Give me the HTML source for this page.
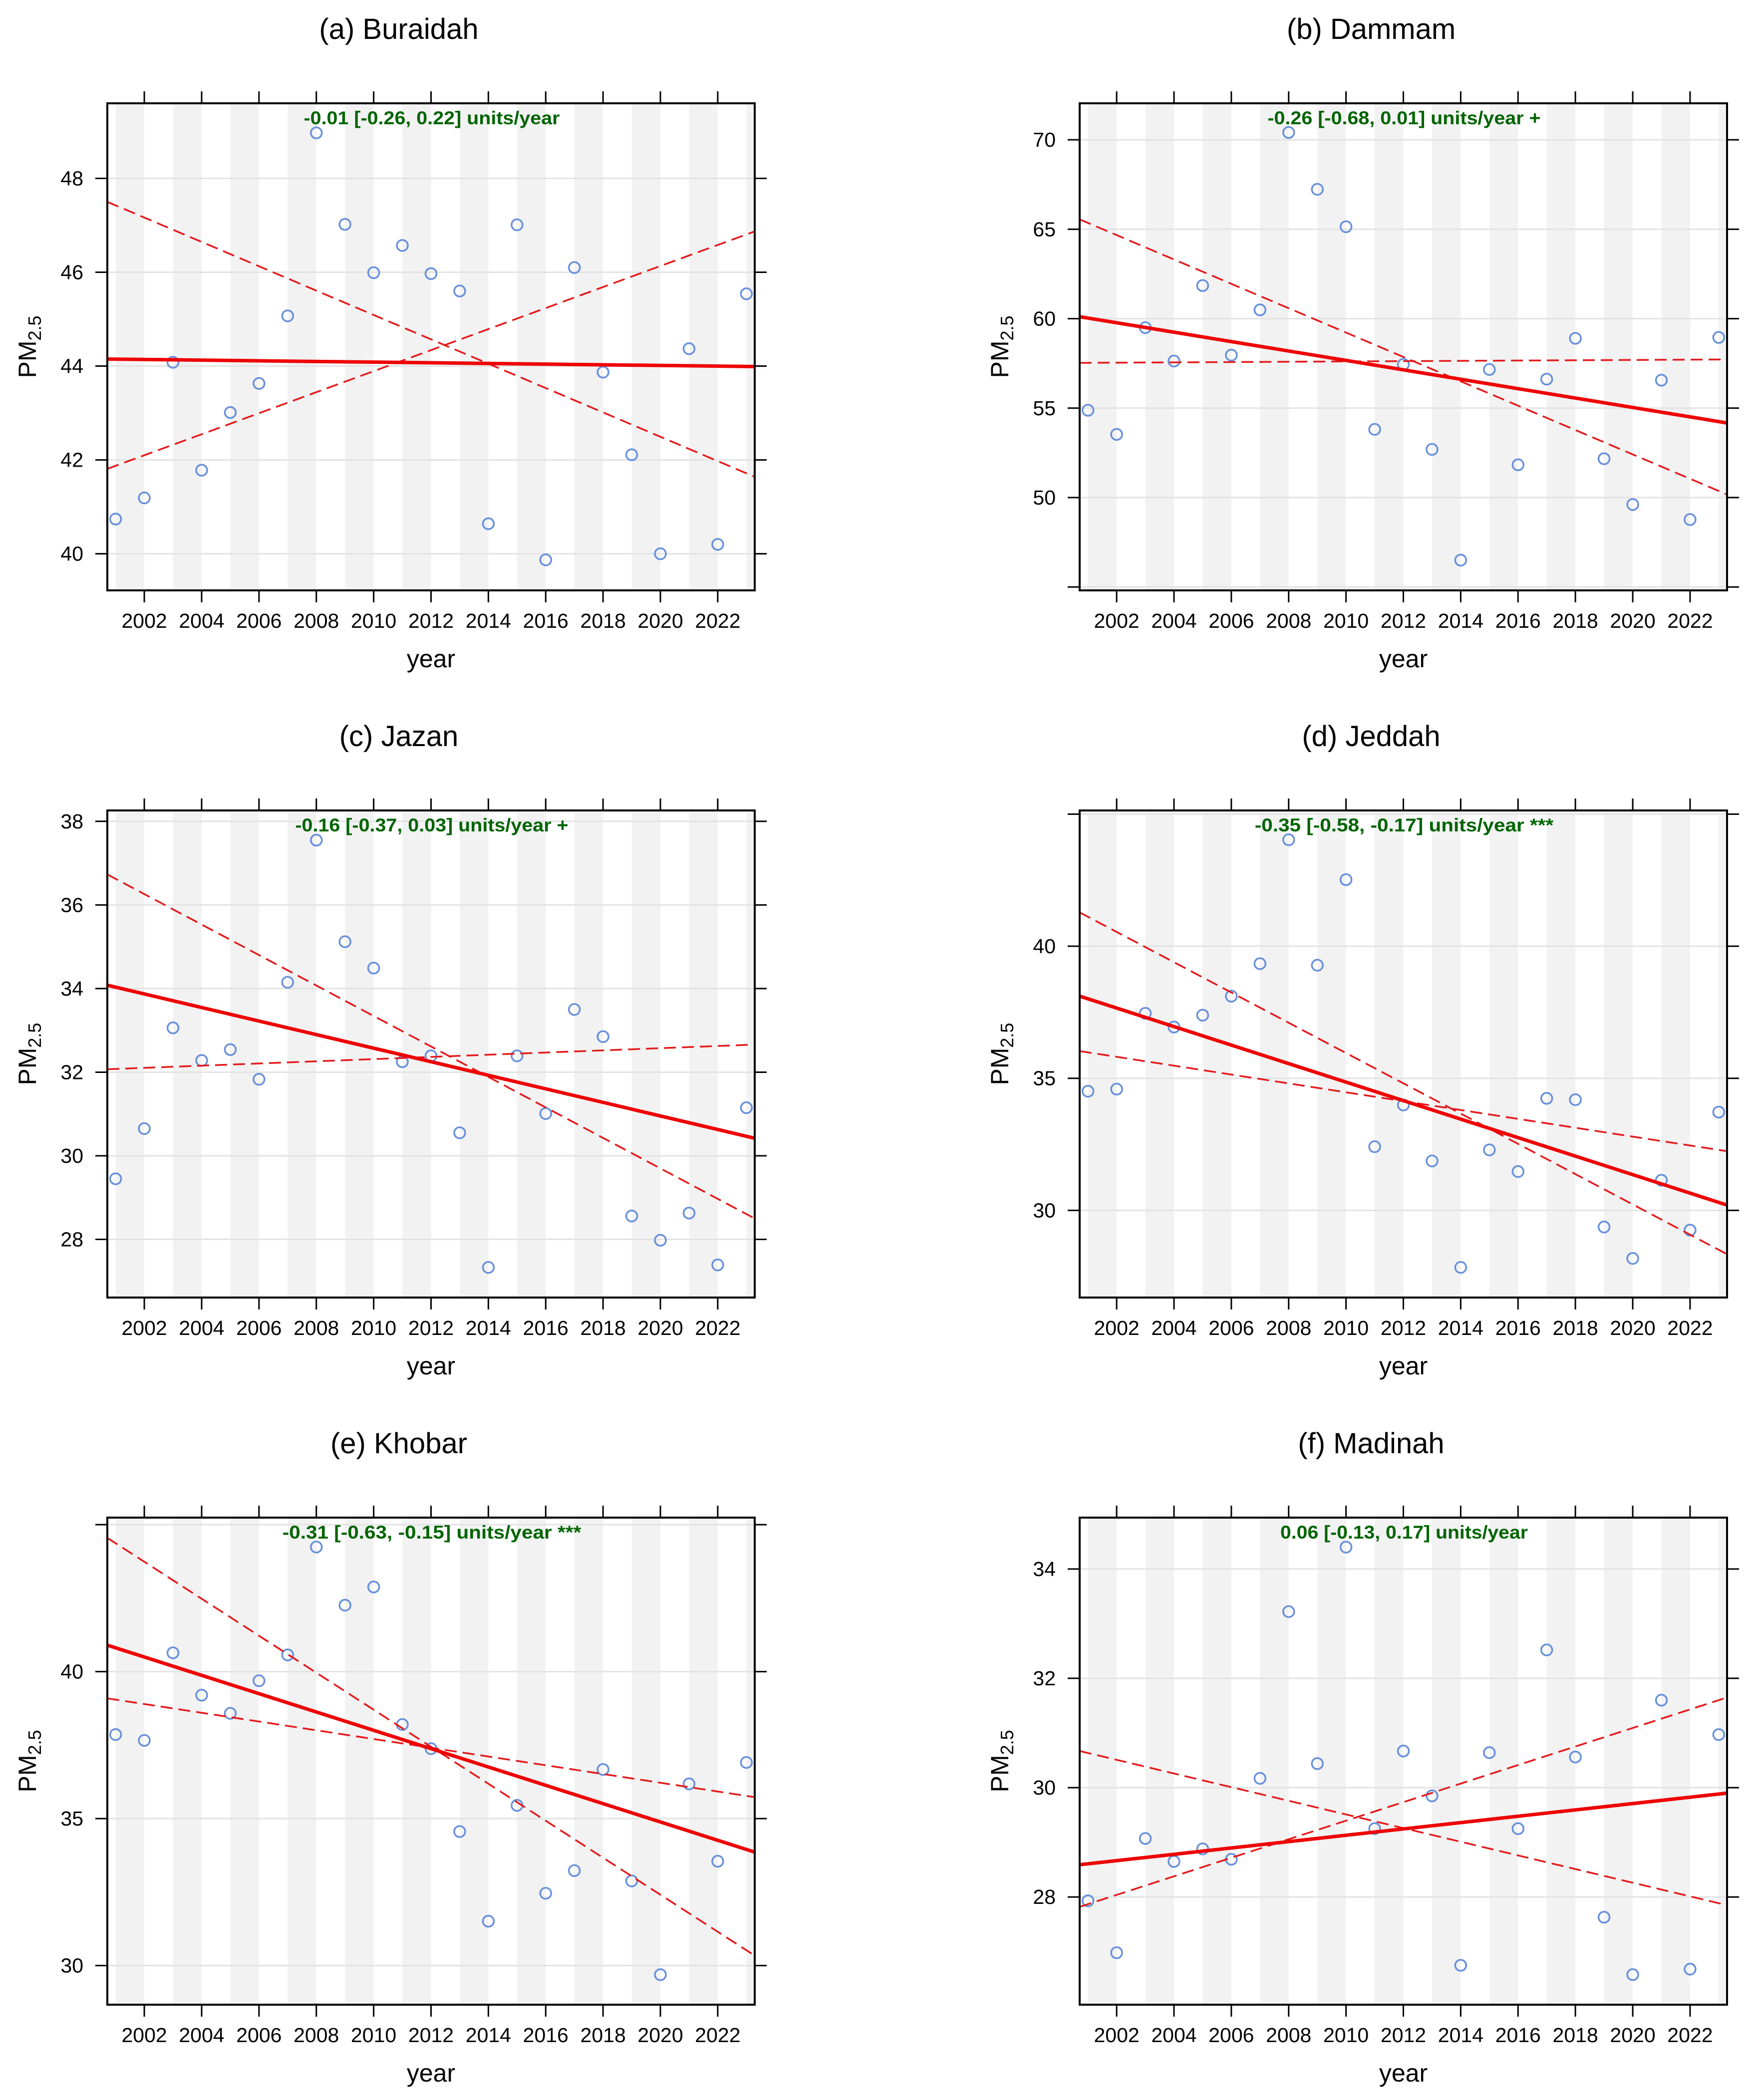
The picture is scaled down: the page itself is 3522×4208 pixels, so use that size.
<!DOCTYPE html>
<html><head><meta charset="utf-8"><title>PM2.5 trends</title>
<style>html,body{margin:0;padding:0;background:#fff}svg{display:block}</style></head>
<body>
<svg id="fig" xmlns="http://www.w3.org/2000/svg" width="3522" height="4208" viewBox="0 0 3522 4208"></svg>
<script>
const years = [2001,2002,2003,2004,2005,2006,2007,2008,2009,2010,2011,2012,2013,2014,2015,2016,2017,2018,2019,2020,2021,2022,2023];
const xTicks = [2002,2004,2006,2008,2010,2012,2014,2016,2018,2020,2022];
const titles = ["(a) Buraidah","(b) Dammam","(c) Jazan","(d) Jeddah","(e) Khobar","(f) Madinah"];
const slopeTexts = ["-0.01 [-0.26, 0.22] units/year","-0.26 [-0.68, 0.01] units/year +","-0.16 [-0.37, 0.03] units/year +","-0.35 [-0.58, -0.17] units/year ***","-0.31 [-0.63, -0.15] units/year ***","0.06 [-0.13, 0.17] units/year"];
const valsA = [40.74,41.19,44.08,41.78,43.01,43.63,45.07,48.97,47.02,45.99,46.57,45.97,45.60,40.64,47.01,39.87,46.10,43.87,42.11,40.00,44.37,40.20,45.54];
const valsB = [54.88,53.53,59.50,57.63,61.85,57.96,60.49,70.41,67.23,65.14,53.81,57.44,52.69,46.50,57.16,51.83,56.62,58.90,52.17,49.61,56.56,48.77,58.95];
const valsC = [29.45,30.65,33.06,32.28,32.54,31.83,34.15,37.55,35.12,34.49,32.25,32.39,30.55,27.33,32.39,31.01,33.50,32.85,28.56,27.98,28.63,27.39,31.15];
const valsD = [34.51,34.59,37.46,36.94,37.39,38.11,39.34,44.03,39.28,42.52,32.41,33.99,31.87,27.84,32.29,31.47,34.24,34.19,29.37,28.18,31.14,29.25,33.72];
const valsE = [37.86,37.66,40.64,39.20,38.58,39.69,40.57,44.24,42.26,42.88,38.20,37.38,34.56,31.51,35.45,32.46,33.23,36.67,32.88,29.69,36.18,33.55,36.91];
const valsF = [27.93,26.98,29.07,28.65,28.88,28.69,30.17,33.22,30.44,34.40,29.25,30.67,29.85,26.75,30.64,29.25,32.52,30.56,27.63,26.58,31.60,26.68,30.97];
const trendA = [44.15,43.99], lowA = [47.50,41.64], upA = [41.81,46.87];
const trendB = [60.11,54.17], lowB = [65.55,50.17], upB = [57.53,57.72];
const trendC = [34.08,30.42], lowC = [36.73,28.50], upC = [32.07,32.66];
const trendD = [38.11,30.20], lowD = [41.28,28.34], upD = [36.03,32.24];
const trendE = [40.90,33.86], lowE = [44.55,30.34], upE = [39.09,35.73];
const trendF = [28.59,29.90], lowF = [30.67,27.85], upF = [27.82,31.65];
const yTicksA = [40,42,44,46,48], yLabA = ["40","42","44","46","48"];
const yTicksB = [45,50,55,60,65,70], yLabB = ["","50","55","60","65","70"];
const yTicksC = [28,30,32,34,36,38], yLabC = ["28","30","32","34","36","38"];
const yTicksD = [30,35,40,45], yLabD = ["30","35","40",""];
const yTicksE = [30,35,40,45], yLabE = ["30","35","40",""];
const yTicksF = [28,30,32,34], yLabF = ["28","30","32","34"];
const yLimA = [39.22,49.60], yLimB = [44.81,72.04], yLimC = [26.61,38.26];
const yLimD = [26.70,45.14], yLimE = [28.67,45.24], yLimF = [26.03,34.94];

const NS = "http://www.w3.org/2000/svg";
const svg = document.getElementById('fig');
function mk(tag, attrs, parent){ const e=document.createElementNS(NS,tag); for(const k in attrs) e.setAttribute(k,attrs[k]); (parent||svg).appendChild(e); return e; }
const W=1297, H=976, XMIN=2000.71, XMAX=2023.29;
const colsX=[215,2163], rowsY=[207,1624,3041];
const panels=[
 {v:valsA,t:trendA,lo:lowA,up:upA,yt:yTicksA,yl:yLabA,lim:yLimA},
 {v:valsB,t:trendB,lo:lowB,up:upB,yt:yTicksB,yl:yLabB,lim:yLimB},
 {v:valsC,t:trendC,lo:lowC,up:upC,yt:yTicksC,yl:yLabC,lim:yLimC},
 {v:valsD,t:trendD,lo:lowD,up:upD,yt:yTicksD,yl:yLabD,lim:yLimD},
 {v:valsE,t:trendE,lo:lowE,up:upE,yt:yTicksE,yl:yLabE,lim:yLimE},
 {v:valsF,t:trendF,lo:lowF,up:upF,yt:yTicksF,yl:yLabF,lim:yLimF}];
const FONT='"Liberation Sans", Arial, sans-serif';
panels.forEach((p,i)=>{
  const x0=colsX[i%2], y0=rowsY[Math.floor(i/2)];
  const xs=yr=>x0+(yr-XMIN)/(XMAX-XMIN)*W;
  const ys=v=>y0+H-(v-p.lim[0])/(p.lim[1]-p.lim[0])*H;
  const g=mk('g',{});
  
  
  const cid='clip'+i;
  const cp=mk('clipPath',{id:cid},g); mk('rect',{x:x0,y:y0,width:W,height:H},cp);
  const inner=mk('g',{'clip-path':'url(#'+cid+')'},g);
  years.forEach(yr=>{ if(yr%2===1){ const r=mk('rect',{x:xs(yr),y:y0,width:xs(yr+1)-xs(yr),height:H,fill:'#f2f2f2'},inner);
      }});
  p.yt.forEach((t,k)=>{ const y=ys(t);
    const gl=mk('line',{x1:x0,x2:x0+W,y1:y,y2:y,stroke:'#e3e3e3','stroke-width':3},inner);
     
    mk('line',{x1:x0-24,x2:x0,y1:y,y2:y,stroke:'#000','stroke-width':3},g);
    mk('line',{x1:x0+W,x2:x0+W+24,y1:y,y2:y,stroke:'#000','stroke-width':3},g);
    if(p.yl[k]){ const tx=mk('text',{x:x0-48,y:y+14,'text-anchor':'end','font-family':FONT,'font-size':41},g); tx.textContent=p.yl[k];
        }
  });
  xTicks.forEach(t=>{ const x=xs(t);
    mk('line',{x1:x,x2:x,y1:y0+H,y2:y0+H+24,stroke:'#000','stroke-width':3},g);
    mk('line',{x1:x,x2:x,y1:y0-24,y2:y0,stroke:'#000','stroke-width':3},g);
    const tx=mk('text',{x:x,y:y0+H+75,'text-anchor':'middle','font-family':FONT,'font-size':41},g); tx.textContent=t;
     
  });
  years.forEach((yr,k)=>{ const c=mk('circle',{cx:xs(yr),cy:ys(p.v[k]),r:11,fill:'none',stroke:'#6890dc','stroke-width':3.5},inner);
      });
  [[p.lo,'ci-line-1'],[p.up,'ci-line-2']].forEach(([L,nm])=>{
    const l=mk('line',{x1:xs(XMIN),x2:xs(XMAX),y1:ys(L[0]),y2:ys(L[1]),stroke:'#e41a1c','stroke-width':3.5,'stroke-dasharray':'24 12'},inner);
      });
  const tl=mk('line',{x1:xs(XMIN),x2:xs(XMAX),y1:ys(p.t[0]),y2:ys(p.t[1]),stroke:'#ee0000','stroke-width':7},inner);
   
  const st=mk('text',{x:x0+650,y:y0+42,'text-anchor':'middle','font-family':FONT,'font-size':37,'font-weight':'bold',fill:'#006400',textLength:slopeTexts[i].length*17.1,lengthAdjust:'spacingAndGlyphs'},g);
  st.textContent=slopeTexts[i];
   
  const bx=mk('rect',{x:x0,y:y0,width:W,height:H,fill:'none',stroke:'#000','stroke-width':4},g);
   
  const tt=mk('text',{x:x0+584,y:y0-129,'text-anchor':'middle','font-family':FONT,'font-size':58},g); tt.textContent=titles[i];
   
  const xl=mk('text',{x:x0+W/2,y:y0+H+154,'text-anchor':'middle','font-family':FONT,'font-size':50},g); xl.textContent='year';
   
  const yl=mk('text',{x:0,y:0,'text-anchor':'middle','font-family':FONT,'font-size':50,transform:'translate('+(x0-143)+','+(y0+H/2)+') rotate(-90)'},g);
   
  yl.appendChild(document.createTextNode('PM'));
  const sub=mk('tspan',{'font-size':36,dy:10},yl); sub.textContent='2.5';
});
</script>
</body></html>
